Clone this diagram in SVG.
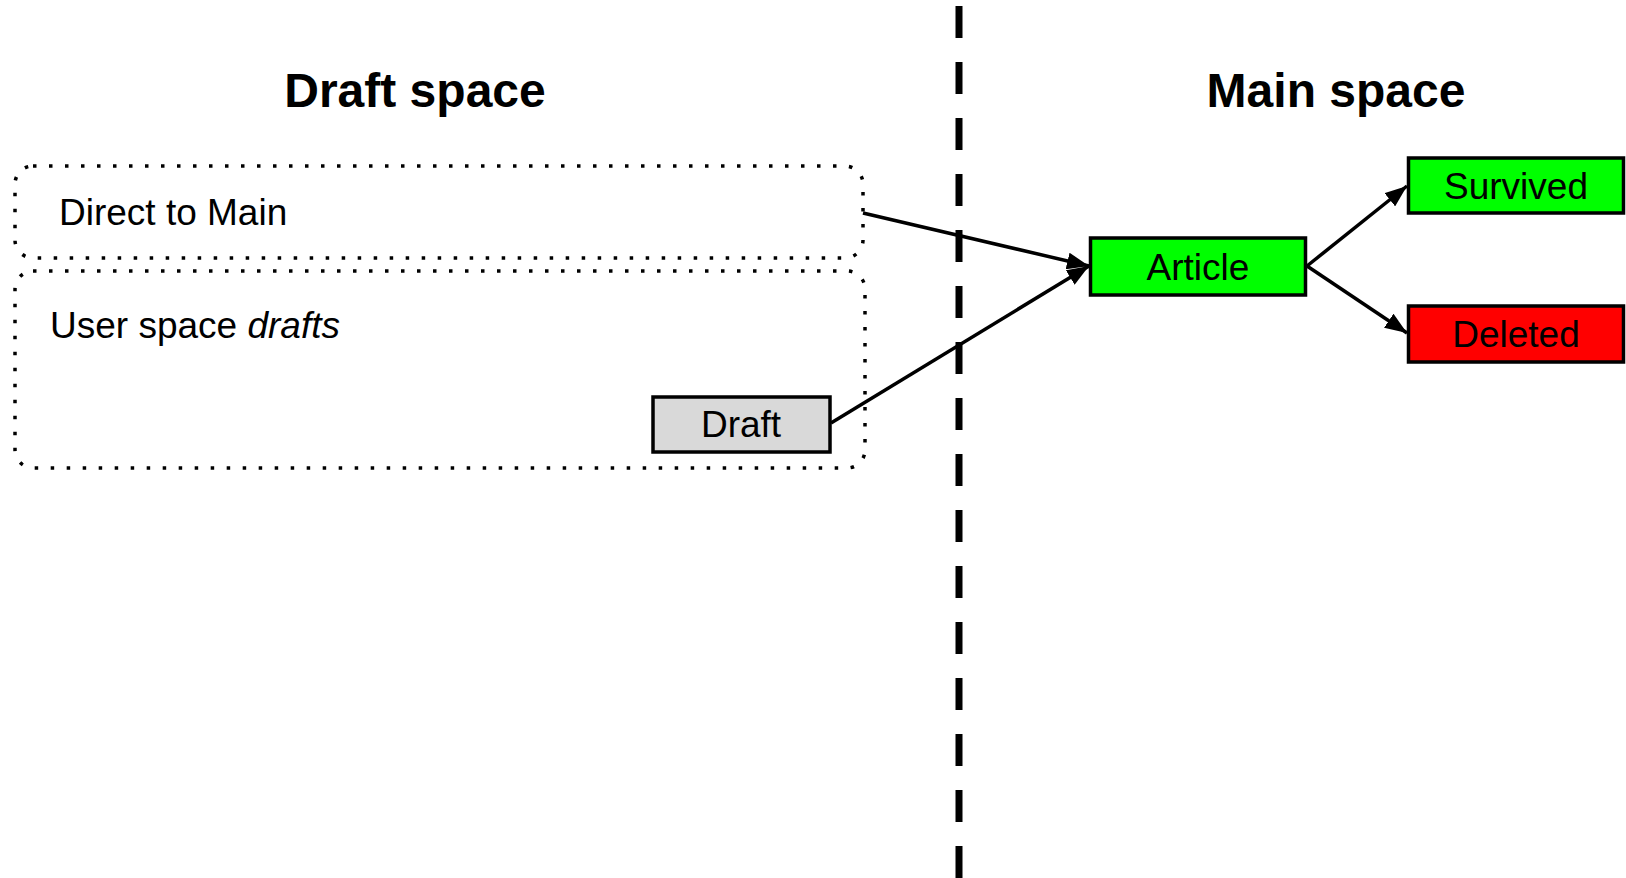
<svg xmlns="http://www.w3.org/2000/svg" width="1626" height="878" viewBox="0 0 1626 878">
<style>
.title{font-family:"Liberation Sans",Arial,sans-serif;font-weight:bold;font-size:48px;fill:#000;text-anchor:middle}
.lbl{font-family:"Liberation Sans",Arial,sans-serif;font-size:37px;fill:#000}
.mid{text-anchor:middle}
.group{fill:none;stroke:#000;stroke-width:3.5;stroke-dasharray:3.5 12.5}
.node{stroke:#000;stroke-width:3.5}
.conn{fill:none;stroke:#000;stroke-width:3.5}
</style>
<defs>
<marker id="arr" markerWidth="22" markerHeight="17" refX="22" refY="8.5" orient="auto" markerUnits="userSpaceOnUse">
<path d="M0,0 L22,8.5 L0,17 Z" fill="#000"/>
</marker>
</defs>
<rect width="1626" height="878" fill="#fff"/>
<g id="divider">
<line x1="959" y1="6" x2="959" y2="878" stroke="#000" stroke-width="7" stroke-dasharray="32 24"/>
</g>
<g id="title-draft"><text class="title" x="415" y="107">Draft space</text></g>
<g id="title-main"><text class="title" x="1336" y="107">Main space</text></g>
<g id="direct-to-main">
<rect class="group" x="15" y="166" width="848" height="92" rx="18"/>
<text class="lbl" x="59" y="225">Direct to Main</text>
</g>
<g id="user-space-drafts">
<rect class="group" x="15" y="271" width="850" height="197" rx="18"/>
<text class="lbl" x="50" y="338">User space <tspan font-style="italic">drafts</tspan></text>
</g>
<g id="draft">
<rect class="node" x="653" y="397" width="177" height="55" fill="#d9d9d9"/>
<text class="lbl mid" x="741" y="437">Draft</text>
</g>
<g id="article">
<rect class="node" x="1090.5" y="238" width="215" height="57" fill="#00ff00"/>
<text class="lbl mid" x="1198" y="280">Article</text>
</g>
<g id="survived">
<rect class="node" x="1408.5" y="158" width="215" height="55" fill="#00ff00"/>
<text class="lbl mid" x="1516" y="199">Survived</text>
</g>
<g id="deleted">
<rect class="node" x="1408.5" y="306" width="215" height="56" fill="#ff0000"/>
<text class="lbl mid" x="1516" y="347">Deleted</text>
</g>
<g id="connectors">
<line class="conn" x1="863" y1="213" x2="1089" y2="266" marker-end="url(#arr)"/>
<line class="conn" x1="831" y1="423" x2="1089" y2="266" marker-end="url(#arr)"/>
<line class="conn" x1="1307" y1="266" x2="1407" y2="186" marker-end="url(#arr)"/>
<line class="conn" x1="1307" y1="266" x2="1407" y2="333" marker-end="url(#arr)"/>
</g>
</svg>
